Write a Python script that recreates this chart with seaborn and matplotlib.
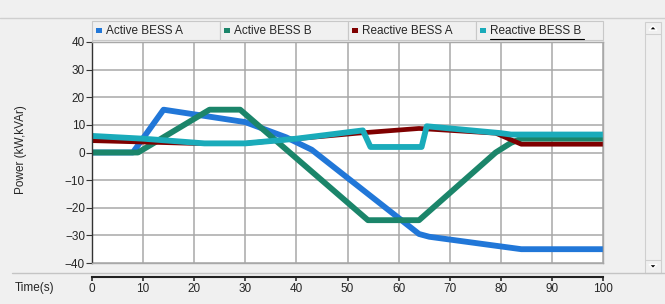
import seaborn as sns
import pandas as pd
import matplotlib
matplotlib.use("Agg")
import matplotlib.pyplot as plt
from matplotlib.lines import Line2D
from matplotlib.patches import Rectangle, Polygon

# data (time in s, power in kW / kVAr)
names = ["Active BESS A", "Active BESS B", "Reactive BESS A", "Reactive BESS B"]
colors = ["#2177d8", "#1b856a", "#7f0000", "#1aabba"]

t_act_a = [0, 8, 14, 30, 38, 43, 64, 66, 84, 100]
p_act_a = [0, 0, 15.5, 11, 5.5, 1, -29.5, -30.5, -35, -35]

t_act_b = [0, 9, 23, 29, 54, 64, 79, 82, 84, 100]
p_act_b = [0, 0, 15.5, 15.5, -24.5, -24.5, 0, 3.5, 5, 5]

t_rea_a = [0, 20, 30, 40, 52, 64, 79, 84, 100]
p_rea_a = [4.3, 3.3, 3.3, 5, 7, 8.7, 7, 3, 3]

t_rea_b = [0, 10, 22, 30, 40, 53, 54.5, 64.5, 65.5, 80, 82, 100]
p_rea_b = [6, 5, 3.3, 3.3, 5, 8, 2, 2, 9.5, 7, 6.5, 6.5]

frames = []
for n, t, p in zip(names, [t_act_a, t_act_b, t_rea_a, t_rea_b],
                   [p_act_a, p_act_b, p_rea_a, p_rea_b]):
    frames.append(pd.DataFrame({"time": t, "power": p, "series": n}))
df = pd.concat(frames, ignore_index=True)

sns.set_theme(style="white")
plt.rcParams['font.family'] = ['Liberation Sans', 'DejaVu Sans']

bg = "#f0f0f0"
fig = plt.figure(figsize=(6.65, 3.04), dpi=100, facecolor=bg)
W, H = 665.0, 304.0

ax = fig.add_axes([92 / W, 1 - 263 / H, 511 / W, 221 / H])
ax.set_facecolor("white")
sns.lineplot(data=df, x="time", y="power", hue="series", hue_order=names,
             palette=colors, linewidth=4.2, sort=False, legend=False,
             estimator=None, ax=ax)
# reactive A is drawn a bit thinner
ax.lines[2].set_linewidth(3.4)

ax.set_xlim(0, 100)
ax.set_ylim(-40, 40)
ax.set_xticks(range(0, 101, 10))
ax.set_yticks(range(-40, 41, 10))
ax.grid(True, color="#a8a8a8", linewidth=1.1)
ax.set_xticklabels([])
ax.tick_params(axis="x", length=0)
ax.tick_params(axis="y", direction="out", length=4, width=0.8, color="#333333",
               labelsize=8.5, pad=1, left=True)
for s in ax.spines.values():
    s.set_color("#a8a8a8")
    s.set_linewidth(1.0)
ax.spines["left"].set_color("#333333")
ax.set_xlabel("")
ax.set_ylabel("")
fig.text(21 / W, 1 - 150 / H, "Power (kW,kVAr)", fontsize=8.5, rotation=90,
         va="center", ha="center")

# window frame lines
fig.lines.append(Line2D([0, 1], [1 - 18 / H] * 2, transform=fig.transFigure,
                        color="#cfcfcf", linewidth=1))
fig.lines.append(Line2D([12 / W, 1], [1 - 273 / H] * 2, transform=fig.transFigure,
                        color="#c4c4c4", linewidth=1))

# separate time axis below the plot
ax2 = fig.add_axes([92 / W, 1 - 276.5 / H, 511 / W, 0.0001])
ax2.set_facecolor("none")
ax2.set_xlim(0, 100)
ax2.set_xticks(range(0, 101, 10))
ax2.set_yticks([])
for k in ["top", "left", "right"]:
    ax2.spines[k].set_visible(False)
ax2.spines["bottom"].set_color("#222222")
ax2.spines["bottom"].set_linewidth(1.5)
ax2.tick_params(axis="x", direction="out", length=3, color="#333333",
                labelsize=8.5, pad=2, bottom=True)
fig.text(15 / W, 1 - 288 / H, "Time(s)", fontsize=8.5, va="center", ha="left")

# top legend strip with four cells
cell_x = [92, 220, 348, 476, 603]
ytop, ybot = 21, 40
for i, n in enumerate(names):
    x0, x1 = cell_x[i], cell_x[i + 1]
    fig.patches.append(Rectangle((x0 / W, 1 - ybot / H), (x1 - x0) / W, (ybot - ytop) / H,
                                 transform=fig.transFigure, facecolor=bg,
                                 edgecolor="#c8c8c8", linewidth=0.8))
    fig.patches.append(Rectangle(((x0 + 4) / W, 1 - 33 / H), 6 / W, 5 / H,
                                 transform=fig.transFigure, facecolor=colors[i],
                                 edgecolor="none"))
    fig.text((x0 + 14) / W, 1 - 31 / H, n, fontsize=8.5, va="center", ha="left")
    if i == 3:
        fig.lines.append(Line2D([(x0 + 14) / W, (x0 + 108) / W], [1 - 38.5 / H] * 2,
                                transform=fig.transFigure, color="black", linewidth=0.8))

# scrollbar on the right
fig.patches.append(Rectangle((645 / W, 1 - 273 / H), 16 / W, 251 / H,
                             transform=fig.transFigure, facecolor=bg,
                             edgecolor="#cfcfcf", linewidth=0.8))
fig.lines.append(Line2D([645 / W, 661 / W], [1 - 34 / H] * 2, transform=fig.transFigure,
                        color="#cfcfcf", linewidth=0.8))
fig.lines.append(Line2D([645 / W, 661 / W], [1 - 260 / H] * 2, transform=fig.transFigure,
                        color="#cfcfcf", linewidth=0.8))
fig.patches.append(Polygon([[649 / W, 1 - 30 / H], [657 / W, 1 - 30 / H],
                            [653 / W, 1 - 26 / H]], closed=True,
                           transform=fig.transFigure, facecolor="black"))
fig.patches.append(Polygon([[649 / W, 1 - 264.5 / H], [657 / W, 1 - 264.5 / H],
                            [653 / W, 1 - 268.5 / H]], closed=True,
                           transform=fig.transFigure, facecolor="black"))

fig.savefig("out.png", dpi=100, facecolor=bg)
